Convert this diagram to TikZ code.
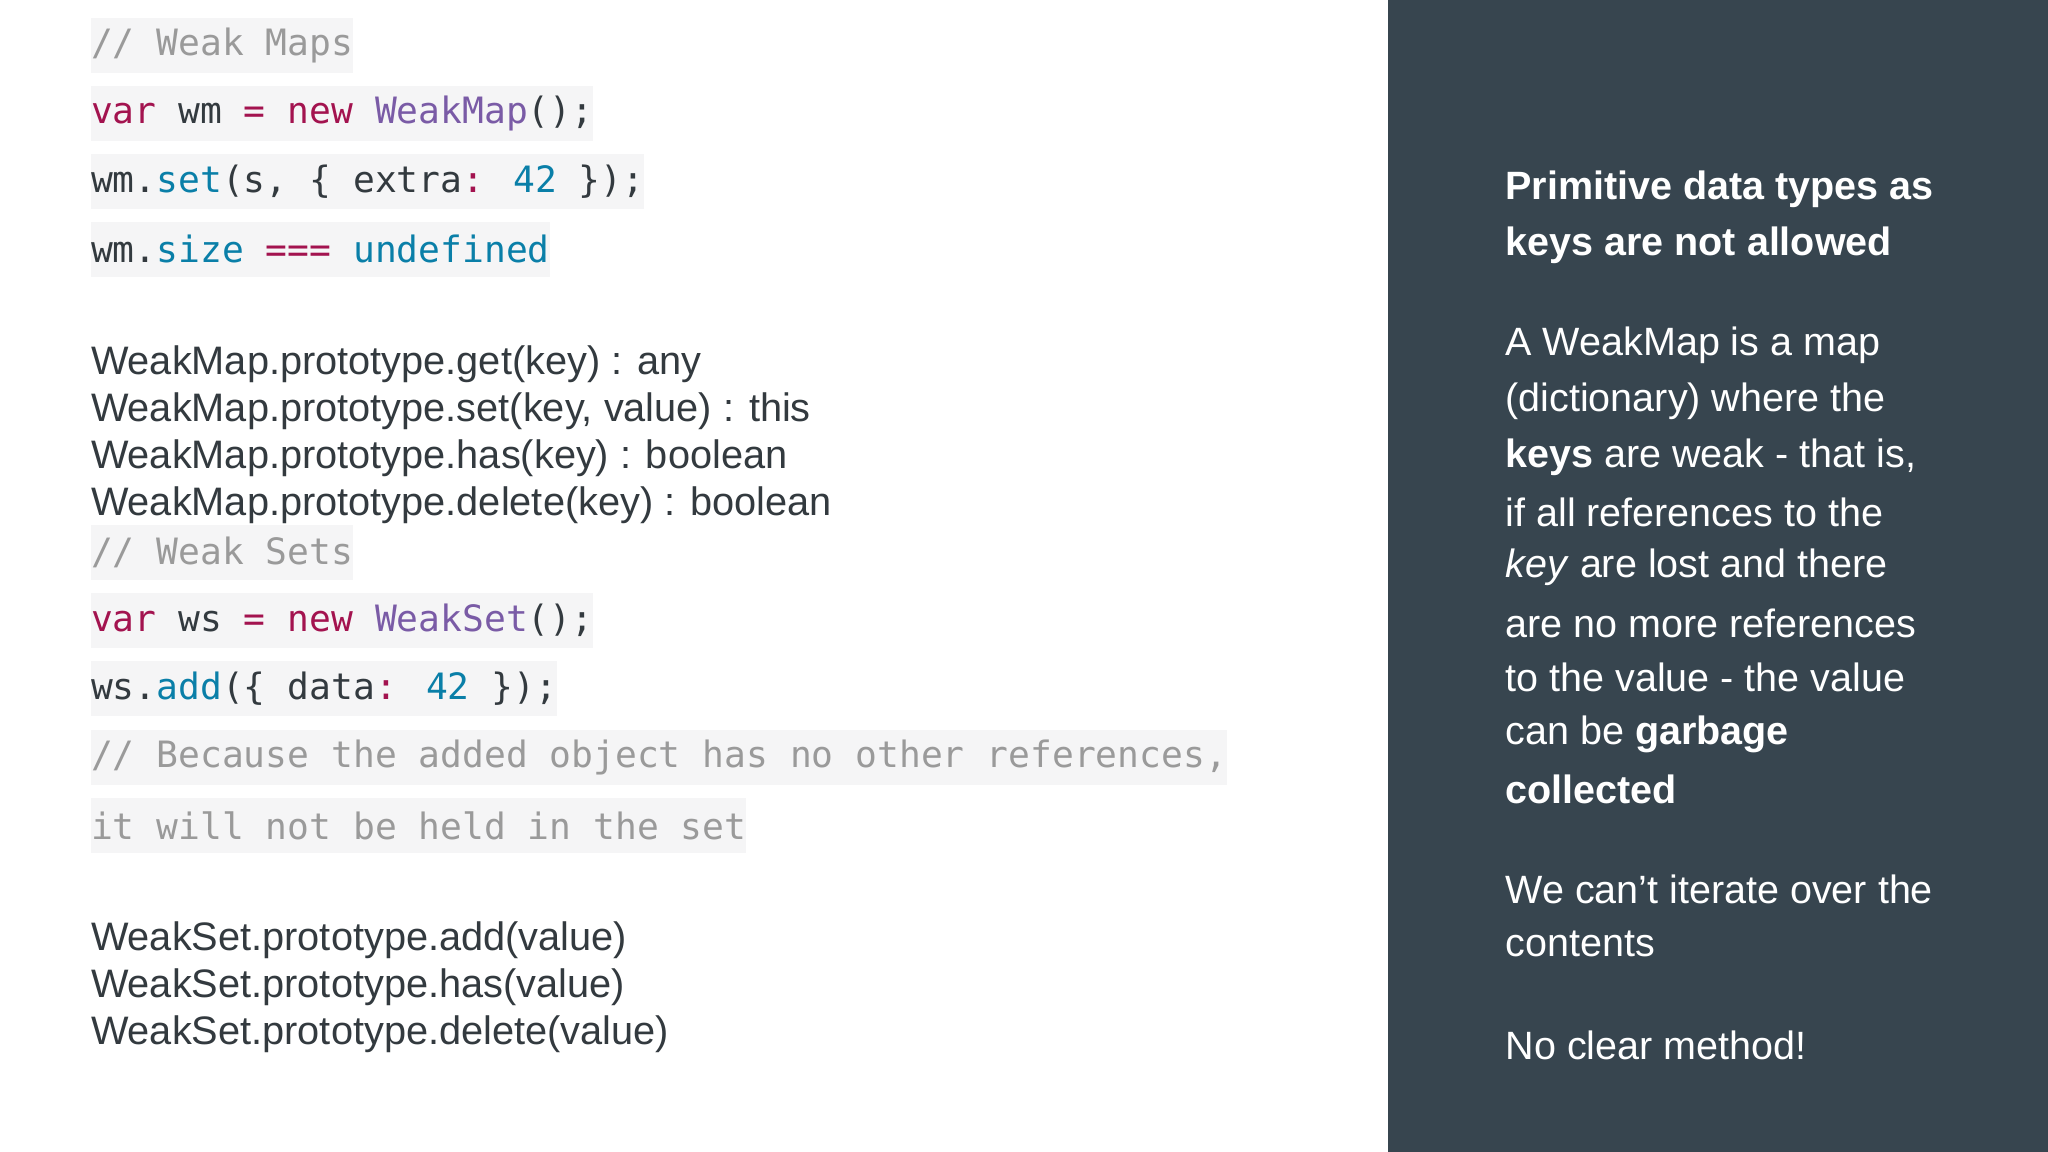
\documentclass[tikz,border=0pt]{standalone}
\usepackage{fontspec}
\setmainfont{Liberation Sans}
\newfontfamily\codefont{DejaVu Sans Mono}
\definecolor{panel}{HTML}{37454F}
\definecolor{txt}{HTML}{333A3F}
\definecolor{codebg}{HTML}{F5F5F6}
\definecolor{kw}{HTML}{A3134F}
\definecolor{cls}{HTML}{7A5BA6}
\definecolor{fn}{HTML}{0A7FA8}
\definecolor{cmt}{HTML}{9A9A9A}
\newcommand\Kw[1]{\textcolor{kw}{#1}}
\newcommand\Cl[1]{\textcolor{cls}{#1}}
\newcommand\Fn[1]{\textcolor{fn}{#1}}
\newcommand\Cm[1]{\textcolor{cmt}{#1}}
\tikzset{
 code/.style={anchor=west,inner xsep=0pt,inner ysep=0pt,fill=codebg,minimum height=0.42cm,text=txt,font=\codefont\fontsize{7.9pt}{9pt}\selectfont},
 api/.style={anchor=west,inner sep=0pt,text=txt,font=\fontsize{8.65pt}{10pt}\selectfont},
 side/.style={anchor=west,inner sep=0pt,text=white,font=\fontsize{8.6pt}{10pt}\selectfont},
}
\begin{document}
\begin{tikzpicture}[x=0.01cm,y=-0.01cm]
\useasboundingbox (0,0) rectangle (1568,882);
\fill[white] (0,0) rectangle (1063,882);
\fill[panel] (1063,0) rectangle (1568,882);
% code
\node[code] (c1) at (69,35) {\Cm{// Weak Maps}};
\node[code] (c2) at (69,87) {\Kw{var} wm \Kw{=} \Kw{new} \Cl{WeakMap}();};
\node[code] (c3) at (69,139) {wm.\Fn{set}(s, \{ extra\Kw{:} \Fn{42} \});};
\node[code] (c4) at (69,191) {wm.\Fn{size} \Kw{===} \Fn{undefined}};
\node[api] (a1) at (69,279) {WeakMap.prototype.get(key) : any};
\node[api] (a2) at (69,315) {WeakMap.prototype.set(key, value) : this};
\node[api] (a3) at (69,351) {WeakMap.prototype.has(key) : boolean};
\node[api] (a4) at (69,387) {WeakMap.prototype.delete(key) : boolean};
\node[code] (c5) at (69,423) {\Cm{// Weak Sets}};
\node[code] (c6) at (69,475) {\Kw{var} ws \Kw{=} \Kw{new} \Cl{WeakSet}();};
\node[code] (c7) at (69,527) {ws.\Fn{add}(\{ data\Kw{:} \Fn{42} \});};
\node[code] (c8) at (69,580) {\Cm{// Because the added object has no other references,}};
\node[code] (c9) at (69,632) {\Cm{it will not be held in the set}};
\node[api] (b1) at (69,720) {WeakSet.prototype.add(value)};
\node[api] (b2) at (69,756) {WeakSet.prototype.has(value)};
\node[api] (b3) at (69,792) {WeakSet.prototype.delete(value)};
% side panel
\node[side] (s1) at (1152,145) {\bfseries Primitive data types as};
\node[side] (s2) at (1152,188) {\bfseries keys are not allowed};
\node[side] (s3) at (1152,264) {A WeakMap is a map};
\node[side] (s4) at (1152,307) {(dictionary) where the};
\node[side] (s5) at (1152,350) {\textbf{keys} are weak - that is,};
\node[side] (s6) at (1152,392) {if all references to the};
\node[side] (s7) at (1152,434) {\textit{key} are lost and there};
\node[side] (s8) at (1152,477) {are no more references};
\node[side] (s9) at (1152,519) {to the value - the value};
\node[side] (s10) at (1152,562) {can be \textbf{garbage}};
\node[side] (s11) at (1152,604) {\bfseries collected};
\node[side] (s12) at (1152,681) {We can’t iterate over the};
\node[side] (s13) at (1152,723) {contents};
\node[side] (s14) at (1152,800) {No clear method!};
\end{tikzpicture}
\end{document}
